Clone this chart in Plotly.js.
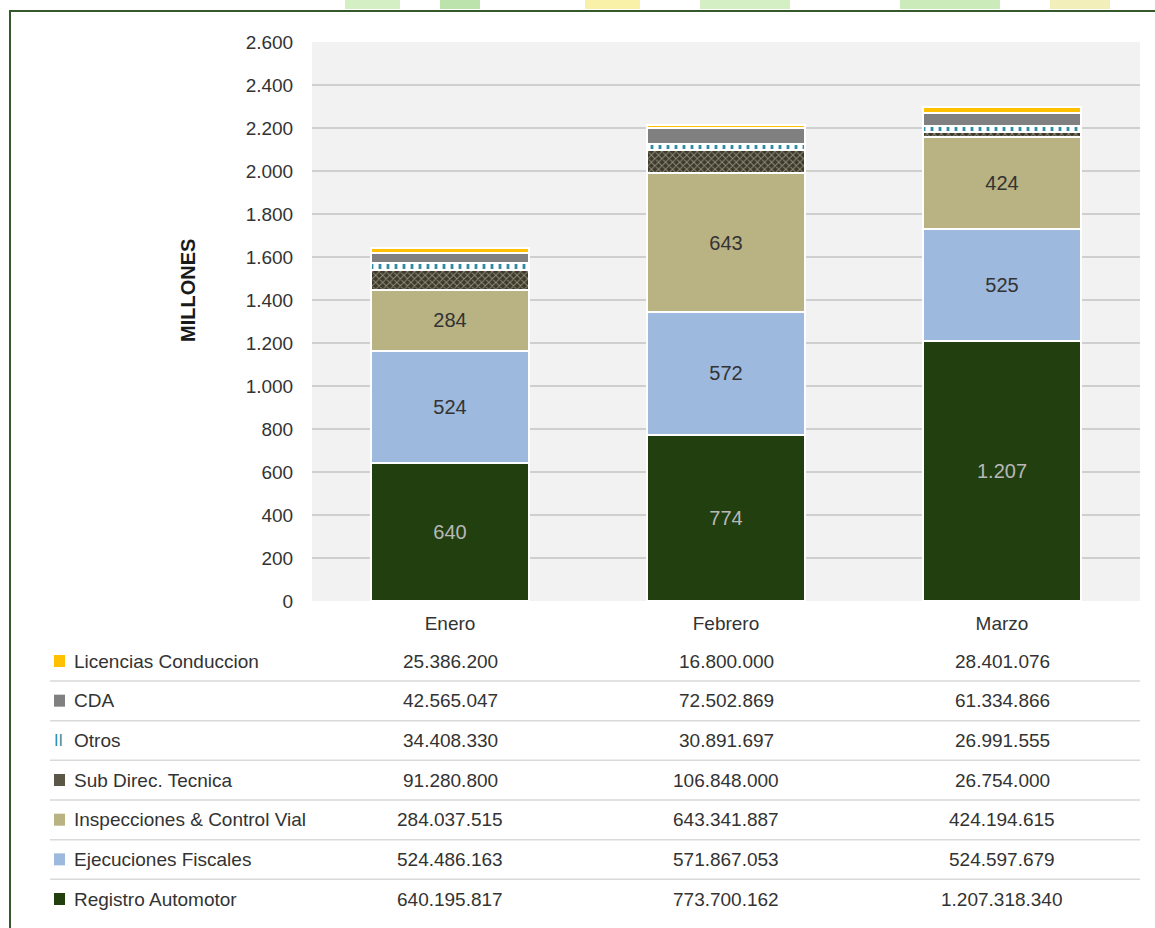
<!DOCTYPE html>
<html>
<head>
<meta charset="utf-8">
<script src="https://cdn.plot.ly/plotly-3.0.1.min.js"></script>
<style>
  html, body { margin: 0; padding: 0; background: #ffffff; }
  #chart { width: 1155px; height: 928px; }
</style>
</head>
<body>
<div id="chart"></div>
<script>
// ---- Data (values in pesos) ----
const months = ['Enero', 'Febrero', 'Marzo'];
const licencias = [25386200, 16800000, 28401076];
const cda = [42565047, 72502869, 61334866];
const otros = [34408330, 30891697, 26991555];
const subDirec = [91280800, 106848000, 26754000];
const inspecciones = [284037515, 643341887, 424194615];
const ejecuciones = [524486163, 571867053, 524597679];
const registro = [640195817, 773700162, 1207318340];

const seriesNames = ['Registro Automotor', 'Ejecuciones Fiscales', 'Inspecciones & Control Vial',
  'Sub Direc. Tecnica', 'Otros', 'CDA', 'Licencias Conduccion'];
const seriesValues = [registro, ejecuciones, inspecciones, subDirec, otros, cda, licencias];
const yTickVals = [0, 200, 400, 600, 800, 1000, 1200, 1400, 1600, 1800, 2000, 2200, 2400, 2600];
const yTitle = 'MILLONES';

// ---- Styles ----
const FONT = 'Liberation Sans, Arial, sans-serif';
const TXT = '#333333';
const styles = [
  { color: '#223f10', label: true, labelColor: '#b8b8b8' },
  { color: '#9db9dd', label: true, labelColor: '#333333' },
  { color: '#b9b283', label: true, labelColor: '#333333' },
  { color: '#403d2e', pattern: { shape: 'x', fgcolor: '#8f8c7a', bgcolor: '#3d3a2b', size: 5, solidity: 0.35 } },
  { color: '#ffffff', pattern: { shape: '|', fgcolor: '#2f8ba3', bgcolor: '#ffffff', size: 8, solidity: 0.35 } },
  { color: '#808080' },
  { color: '#ffc000' }
];

const toM = arr => arr.map(v => v / 1e6);
const fmt = n => String(n).replace(/\B(?=(\d{3})+(?!\d))/g, '.');

const traces = seriesValues.map((vals, i) => {
  const s = styles[i];
  const marker = { color: s.color, line: { color: '#ffffff', width: 2 } };
  if (s.pattern) marker.pattern = s.pattern;
  return {
    type: 'bar',
    name: seriesNames[i],
    x: months,
    y: toM(vals),
    marker: marker,
    texttemplate: s.label ? '%{y:,.0f}' : '',
    textposition: s.label ? 'inside' : 'none',
    insidetextanchor: 'middle',
    textangle: 0,
    textfont: { family: FONT, size: 20, color: s.label ? s.labelColor : TXT },
    hoverinfo: 'skip'
  };
});

// ---- Layout geometry (pixels) ----
const W = 1155, H = 928;
const L = 312, R = 15, T = 42, B = 327;
const plotW = W - L - R, plotH = H - T - B;
const px2x = p => (p - L) / plotW;
const py2y = p => (H - B - p) / plotH;

const shapes = [];
const annotations = [];

// faint watermark fragments at the very top
const wm = [
  { x0: 345, x1: 400, c: 'rgba(200,235,180,0.8)' },
  { x0: 440, x1: 480, c: 'rgba(170,220,150,0.8)' },
  { x0: 585, x1: 640, c: 'rgba(250,240,160,0.9)' },
  { x0: 700, x1: 790, c: 'rgba(200,235,180,0.8)' },
  { x0: 900, x1: 1000, c: 'rgba(190,230,170,0.8)' },
  { x0: 1050, x1: 1110, c: 'rgba(240,235,170,0.8)' }
];
wm.forEach(w => shapes.push({ type: 'rect', xref: 'paper', yref: 'paper', x0: px2x(w.x0), x1: px2x(w.x1),
  y0: py2y(9), y1: py2y(0), line: { width: 0 }, fillcolor: w.c, layer: 'below' }));

// border frame
shapes.push({ type: 'rect', xref: 'paper', yref: 'paper', x0: px2x(10), x1: px2x(1175), y0: py2y(940), y1: py2y(11),
  line: { color: '#35592a', width: 2 }, fillcolor: 'rgba(0,0,0,0)', layer: 'below' });

// y-axis title
annotations.push({ xref: 'paper', yref: 'paper', x: px2x(188), y: py2y(291), text: '<b>' + yTitle + '</b>',
  textangle: -90, showarrow: false, font: { family: FONT, size: 20, color: '#1a1a1a' },
  xanchor: 'center', yanchor: 'middle' });

// data table (top row = last series)
const rowY0 = 661, rowStep = 39.67;
const order = [6, 5, 4, 3, 2, 1, 0];
order.forEach((si, r) => {
  const yc = rowY0 + r * rowStep;
  const st = styles[si];
  if (si === 4) {
    annotations.push({ xref: 'paper', yref: 'paper', x: px2x(59), y: py2y(yc), text: 'II', showarrow: false,
      font: { family: FONT, size: 16, color: '#2f8ba3' }, xanchor: 'center', yanchor: 'middle' });
  } else {
    shapes.push({ type: 'rect', xref: 'paper', yref: 'paper', x0: px2x(54), x1: px2x(65), y0: py2y(yc + 6), y1: py2y(yc - 6),
      line: { width: 0 }, fillcolor: si === 3 ? '#5a5746' : st.color });
  }
  annotations.push({ xref: 'paper', yref: 'paper', x: px2x(72), y: py2y(yc), text: seriesNames[si], showarrow: false,
    font: { family: FONT, size: 19, color: TXT }, xanchor: 'left', yanchor: 'middle' });
  months.forEach((m, j) => {
    annotations.push({ xref: 'x', yref: 'paper', x: m, y: py2y(yc), text: fmt(seriesValues[si][j]), showarrow: false,
      font: { family: FONT, size: 19, color: TXT }, xanchor: 'center', yanchor: 'middle' });
  });
  if (r < order.length - 1) {
    shapes.push({ type: 'line', xref: 'paper', yref: 'paper', x0: px2x(50), x1: px2x(1140), y0: py2y(yc + 20), y1: py2y(yc + 20),
      line: { color: '#d9d9d9', width: 1.5 } });
  }
});

const layout = {
  width: W, height: H,
  margin: { l: L, r: R, t: T, b: B, pad: 0 },
  paper_bgcolor: '#ffffff',
  plot_bgcolor: '#f2f2f2',
  barmode: 'stack',
  bargap: 0.43,
  showlegend: false,
  separators: ',.',
  font: { family: FONT, size: 19, color: TXT },
  xaxis: {
    type: 'category',
    showgrid: false, zeroline: false, showline: false,
    ticks: 'outside', ticklen: 5, tickcolor: 'rgba(0,0,0,0)',
    tickfont: { family: FONT, size: 19, color: TXT },
    fixedrange: true
  },
  yaxis: {
    range: [0, 2600],
    tickvals: yTickVals,
    tickformat: ',.0f',
    showgrid: true, gridcolor: '#cfcfcf', gridwidth: 1.5,
    zeroline: false, showline: false,
    ticks: 'outside', ticklen: 14, tickcolor: 'rgba(0,0,0,0)',
    tickfont: { family: FONT, size: 19, color: TXT },
    automargin: false,
    fixedrange: true
  },
  shapes: shapes,
  annotations: annotations
};

Plotly.newPlot('chart', traces, layout, { displayModeBar: false, staticPlot: true });
</script>
</body>
</html>
